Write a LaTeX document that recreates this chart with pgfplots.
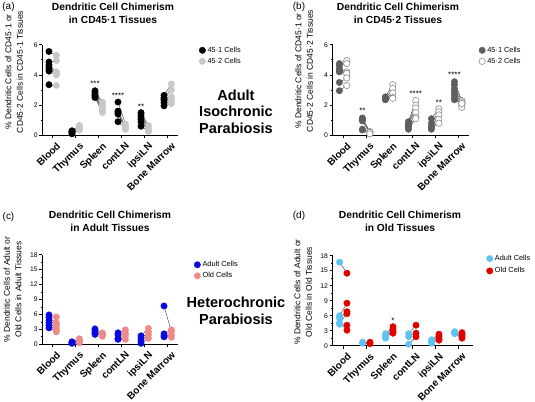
\documentclass[border=0pt]{standalone}
\usepackage{pgfplots}
\usepackage{pgfplotstable}
\pgfplotsset{compat=1.18}
\usepackage{fontspec}
\setmainfont{Liberation Sans}
\definecolor{lgrey}{HTML}{C8C8C8}
\definecolor{dgrey}{HTML}{5E5E5E}
\definecolor{ogrey}{HTML}{8C8C8C}
\definecolor{cblue}{HTML}{0A0AE0}
\definecolor{cpink}{HTML}{F08A8A}
\definecolor{sky}{HTML}{5CC3F2}
\definecolor{cred}{HTML}{E00000}
\definecolor{lnkc}{HTML}{4A4A4A}

\pgfplotstableread{
c a b
0 5.55 5.30
0 4.85 4.95
0 4.65 4.20
0 4.50 4.05
0 4.35 4.10
0 4.25 4.00
0 3.35 3.30
1 0.30 0.65
1 0.25 0.55
1 0.20 0.45
1 0.15 0.40
1 0.10 0.35
2 2.95 2.20
2 2.85 2.05
2 2.75 1.90
2 2.65 1.75
2 2.60 1.60
2 2.50 1.50
3 2.20 0.75
3 1.60 0.60
3 1.50 0.50
3 0.90 0.45
3 1.40 0.40
4 1.50 0.65
4 1.35 0.50
4 1.20 0.40
4 1.05 0.35
4 0.90 0.30
4 0.60 0.25
5 2.65 3.40
5 2.50 3.00
5 2.40 2.55
5 2.30 2.40
5 2.15 2.20
5 1.95 2.10
}\tabA

\pgfplotstableread{
c a b
0 4.75 4.95
0 4.60 4.75
0 4.40 4.20
0 4.25 4.10
0 4.20 4.10
0 3.50 3.80
0 2.95 3.30
1 1.15 0.25
1 1.05 0.20
1 0.95 0.15
1 0.40 0.20
1 0.35 0.10
2 2.55 3.35
2 2.45 3.10
2 2.40 2.80
2 2.35 2.50
2 2.40 2.45
3 0.90 2.30
3 0.80 2.00
3 0.70 1.80
3 0.60 1.50
3 0.50 1.20
3 0.40 1.10
4 1.10 1.75
4 0.80 1.55
4 0.60 1.35
4 0.40 1.05
4 0.50 0.80
5 3.55 2.30
5 3.35 2.20
5 3.10 2.10
5 2.90 2.00
5 2.70 1.85
5 2.50 2.20
5 2.35 2.10
}\tabB

\pgfplotstableread{
c a b
0 5.90 5.50
0 5.40 4.30
0 4.80 3.80
0 4.30 3.20
0 3.80 2.80
0 3.30 2.50
1 0.50 1.10
1 0.30 0.80
1 0.40 0.50
1 0.20 0.30
2 3.10 2.30
2 2.70 1.90
2 2.30 1.60
2 2.00 1.90
3 2.30 2.90
3 1.90 2.20
3 1.20 1.70
3 1.00 1.00
4 1.70 3.20
4 1.20 2.50
4 0.70 1.90
4 0.20 1.20
5 7.70 2.50
5 2.10 2.90
5 1.70 1.80
5 1.50 1.40
}\tabC

\pgfplotstableread{
c a b
0 16.70 14.50
0 6.00 8.50
0 5.50 6.80
0 4.60 6.40
0 4.30 4.10
0 4.50 3.10
1 0.70 0.70
1 0.50 0.40
2 2.40 3.80
2 1.90 3.30
2 1.50 2.90
2 2.00 2.50
3 2.40 4.10
3 1.80 2.50
3 0.30 1.80
4 1.20 2.30
4 0.90 1.90
4 0.50 1.40
4 0.80 1.10
5 2.80 2.60
5 2.50 2.20
5 2.60 1.90
5 2.40 1.50
}\tabD

\pgfplotsset{
  panel/.style={
    scale only axis, anchor=south west, clip=false,
    width=136bp, height=90.6bp,
    xmin=-0.45, xmax=5.46,
    axis x line*=bottom, axis y line*=left,
    axis line style={-, line width=0.9bp},
    tick style={line width=0.7bp, black},
    tick align=outside,
    major tick length=3bp, minor tick length=1.8bp,
    minor y tick num=1,
    xtick={0,1,2,3,4,5},
    xticklabels={Blood,Thymus,Spleen,contLN,ipsiLN,Bone Marrow},
    xticklabel style={rotate=45, anchor=north east, inner sep=1bp, yshift=-3.5bp, xshift=1bp, font=\bfseries\fontsize{10}{11}\selectfont},
    yticklabel style={font=\fontsize{6.8}{8}\selectfont, inner sep=1.5bp},
    /pgf/number format/assume math mode=true,
    legend cell align=left,
    legend style={draw=none, fill=none, anchor=north west, font=\fontsize{7.4}{8}\selectfont, inner sep=0pt, row sep=0.2bp},
  },
  pts/.style={only marks, mark=*, mark size=3.2bp},
  lnk/.style={forget plot, no markers, draw=lnkc, line width=0.45bp},
}
\tikzset{star/.style={font=\fontsize{8}{8}\selectfont, inner sep=0pt}}

\begin{document}
\begin{tikzpicture}
\path[use as bounding box] (0bp,0bp) rectangle (535bp,402bp);

% (a)
\begin{axis}[panel, at={(42.3bp,266.7bp)}, ymin=0, ymax=6, ytick={0,2,4,6},
  legend style={at={(1.152,1.0)}}]
\addplot[pts, black] table[x expr=\thisrow{c}-0.16, y=a] {\tabA};
\addlegendentry{45·1 Cells}
\addplot[pts, lgrey] table[x expr=\thisrow{c}+0.16, y=b] {\tabA};
\addlegendentry{45·2 Cells}
\addplot[lnk, quiver={u=0.32, v=\thisrow{b}-\thisrow{a}}] table[x expr=\thisrow{c}-0.16, y=a] {\tabA};
\node[star] at (axis cs:1.84,3.4) {***};
\node[star] at (axis cs:2.84,2.6) {****};
\node[star] at (axis cs:3.84,1.9) {**};
\end{axis}

% (b)
\begin{axis}[panel, at={(332.7bp,266.7bp)}, ymin=0, ymax=6, ytick={0,2,4,6},
  legend style={at={(1.074,1.0)}}]
\addplot[pts, dgrey] table[x expr=\thisrow{c}-0.16, y=a] {\tabB};
\addlegendentry{45·1 Cells}
\addplot[pts, draw=ogrey, fill=white, mark options={line width=0.6bp}] table[x expr=\thisrow{c}+0.16, y=b] {\tabB};
\addlegendentry{45·2 Cells}
\addplot[lnk, quiver={u=0.32, v=\thisrow{b}-\thisrow{a}}] table[x expr=\thisrow{c}-0.16, y=a] {\tabB};
\node[star] at (axis cs:0.84,1.62) {**};
\node[star] at (axis cs:3.16,2.78) {****};
\node[star] at (axis cs:4.16,2.13) {**};
\node[star] at (axis cs:4.84,3.98) {****};
\end{axis}

% (c)
\begin{axis}[panel, at={(42.3bp,57.7bp)}, height=89.6bp, ymin=0, ymax=18, ytick={0,3,...,18},
  legend style={at={(1.115,0.95)}}]
\addplot[pts, cblue] table[x expr=\thisrow{c}-0.16, y=a] {\tabC};
\addlegendentry{Adult Cells}
\addplot[pts, cpink] table[x expr=\thisrow{c}+0.16, y=b] {\tabC};
\addlegendentry{Old Cells}
\addplot[lnk, quiver={u=0.32, v=\thisrow{b}-\thisrow{a}}] table[x expr=\thisrow{c}-0.16, y=a] {\tabC};
\end{axis}

% (d)
\begin{axis}[panel, at={(332.7bp,56.3bp)}, width=140.6bp, height=90bp, xmin=-0.46, xmax=5.65,
  ymin=0, ymax=18, ytick={0,3,...,18},
  legend style={at={(1.093,1.03)}, row sep=1.5bp}]
\addplot[pts, sky] table[x expr=\thisrow{c}-0.16, y=a] {\tabD};
\addlegendentry{Adult Cells}
\addplot[pts, cred] table[x expr=\thisrow{c}+0.16, y=b] {\tabD};
\addlegendentry{Old Cells}
\addplot[lnk, quiver={u=0.32, v=\thisrow{b}-\thisrow{a}}] table[x expr=\thisrow{c}-0.16, y=a] {\tabD};
\node[star] at (axis cs:2.16,4.9) {*};
\end{axis}

% titles
\begin{scope}[every node/.style={align=center, font=\bfseries\fontsize{10.3}{13}\selectfont}]
\node at (113bp,388.5bp) {Dendritic Cell Chimerism\\in CD45·1 Tissues};
\node at (398bp,388.5bp) {Dendritic Cell Chimerism\\in CD45·2 Tissues};
\node at (110bp,180.5bp) {Dendritic Cell Chimerism\\in Adult Tissues};
\node at (400bp,180.5bp) {Dendritic Cell Chimerism\\in Old Tissues};
\end{scope}
% y labels
\begin{scope}[every node/.style={align=center, rotate=90, font=\fontsize{8.5}{11.5}\selectfont}]
\node at (14bp,330bp) {\% Dendritic Cells of CD45·1 or\\CD45·2 Cells in CD45·1 Tissues};
\node at (304bp,331bp) {\% Dendritic Cells of CD45·1 or\\CD45·2 Cells in CD45·2 Tissues};
\node at (12.7bp,112.5bp) {\% Dendritic Cells of Adult or\\Old Cells in Adult Tissues};
\node at (303bp,110bp) {\% Dendritic Cells of Adult or\\Old Cells in Old Tissues};
\end{scope}
% panel letters
\begin{scope}[every node/.style={font=\fontsize{10}{12}\selectfont}]
\node at (8.5bp,395bp) {(a)};
\node at (299bp,395bp) {(b)};
\node at (8.5bp,185.3bp) {(c)};
\node at (299bp,186bp) {(d)};
\end{scope}
% big labels
\node[align=center, font=\bfseries\fontsize{14.6}{16.5}\selectfont] at (236bp,290.5bp) {Adult\\Isochronic\\Parabiosis};
\node[align=center, font=\bfseries\fontsize{14.6}{16.5}\selectfont] at (236bp,91bp) {Heterochronic\\Parabiosis};
\end{tikzpicture}
\end{document}
